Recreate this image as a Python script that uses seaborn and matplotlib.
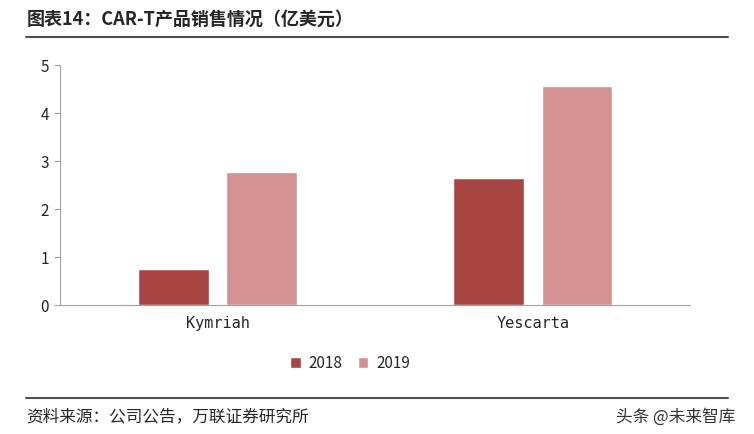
import matplotlib
matplotlib.use("Agg")
import matplotlib.pyplot as plt
import seaborn as sns
import pandas as pd

products = ["Kymriah", "Yescarta"]
years = ["2018", "2019"]
sales_2018 = [0.76, 2.64]
sales_2019 = [2.78, 4.56]
colors = ["#A84543", "#D39291"]

df = pd.DataFrame({
    "product": products * 2,
    "year": [years[0]] * 2 + [years[1]] * 2,
    "sales": sales_2018 + sales_2019,
})

sns.set_style("white")
plt.rcParams['font.family'] = ['Noto Sans CJK SC', 'DejaVu Sans']

fig = plt.figure(figsize=(7.54, 4.34), dpi=100)
ax = fig.add_axes([0.0796, 0.297, 0.836, 0.553])
sns.barplot(data=df, x="product", y="sales", hue="year", palette=colors,
            width=0.56, gap=0.2, ax=ax, saturation=1)
ax.set_xlim(-0.5, 1.5)
ax.set_ylim(0, 5)
ax.set_yticks([0, 1, 2, 3, 4, 5])
ax.set_xlabel("")
ax.set_ylabel("")
for s in ["top", "right"]:
    ax.spines[s].set_visible(False)
for s in ["left", "bottom"]:
    ax.spines[s].set_color("#A0A0A0")
    ax.spines[s].set_linewidth(0.8)
ax.tick_params(axis="y", length=4, color="#A0A0A0", labelsize=11, left=True, pad=4)
ax.tick_params(axis="x", length=0, labelsize=11, pad=8)
for lab in ax.get_xticklabels():
    lab.set_family("DejaVu Sans Mono")
ax.legend(loc="upper center", bbox_to_anchor=(0.46, -0.15), ncol=2, frameon=False,
          fontsize=11, handlelength=0.7, handleheight=0.7, columnspacing=1.0, handletextpad=0.5)

fig.text(0.035, 0.955, "图表14：CAR-T产品销售情况（亿美元）", fontsize=13, fontweight="bold", va="center", ha="left")
fig.add_artist(plt.Line2D([0.035, 0.965], [0.915, 0.915], color="#505050", lw=1.5))
fig.add_artist(plt.Line2D([0.035, 0.965], [0.083, 0.083], color="#505050", lw=1.5))
fig.text(0.035, 0.04, "资料来源：公司公告，万联证券研究所", fontsize=12, style="italic", va="center", ha="left")
fig.text(0.975, 0.04, "头条 @未来智库", fontsize=12, va="center", ha="right", color="#333333")

fig.savefig("out.png", dpi=100)
